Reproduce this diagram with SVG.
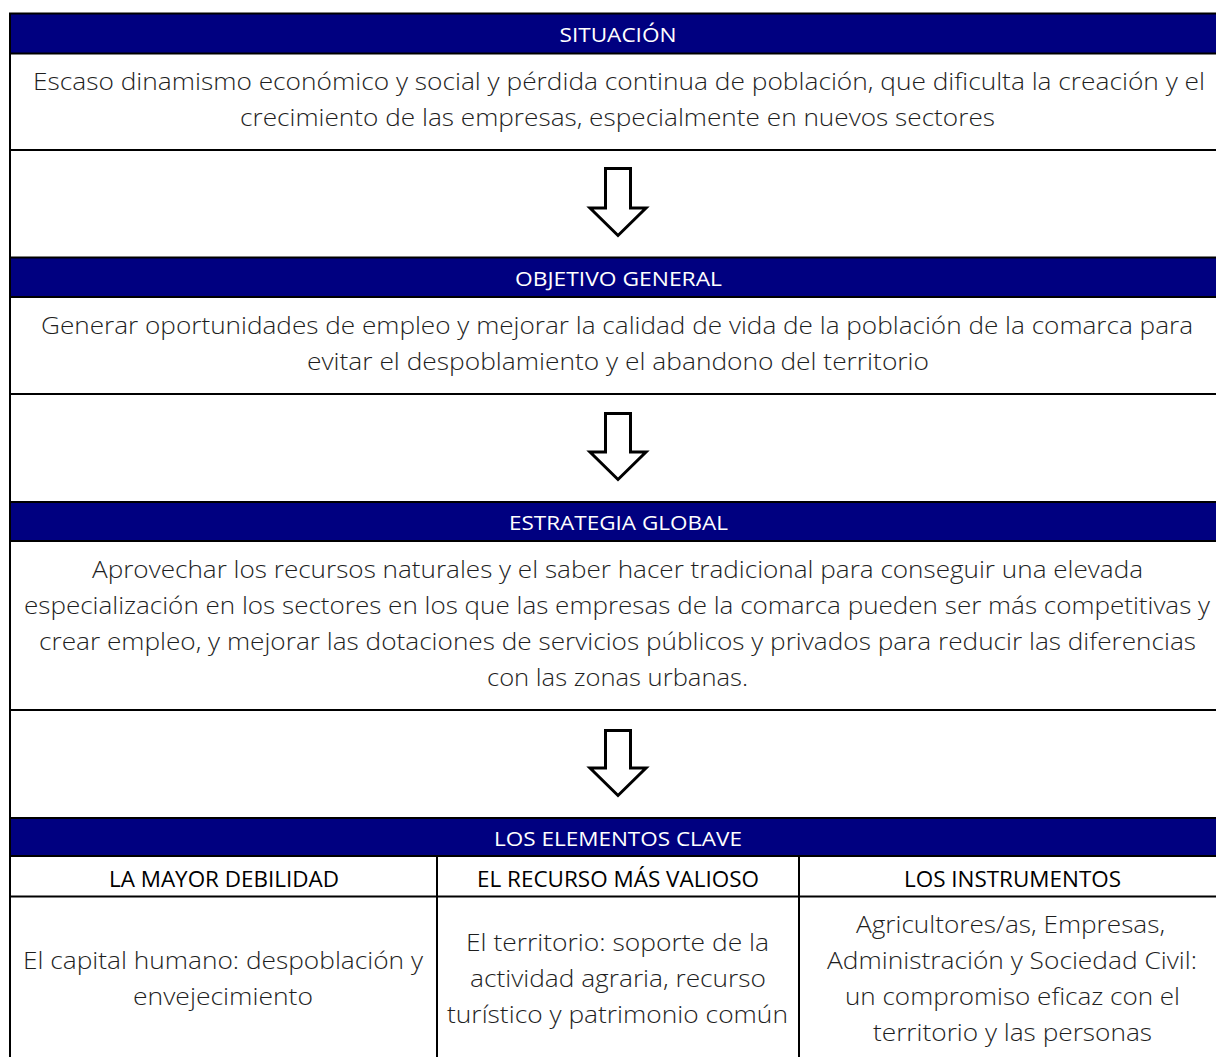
<svg xmlns="http://www.w3.org/2000/svg" width="1216" height="1057" viewBox="0 0 1216 1057">
<style>
.bar{fill:#000080;}
.ln{stroke:#000;stroke-width:2;fill:none;}
.hd{font-family:"Open Sans","Liberation Sans",sans-serif;font-size:20.5px;fill:#fff;text-anchor:middle;}
.tx{font-family:"Open Sans","Liberation Sans",sans-serif;font-weight:300;font-size:24.5px;fill:#1e1e1e;text-anchor:middle;}
.ch{font-family:"Open Sans","Liberation Sans",sans-serif;font-size:21.5px;fill:#000;text-anchor:middle;}
.arr{fill:#fff;stroke:#000;stroke-width:3;stroke-linejoin:miter;}
</style>
<rect x="0" y="0" width="1216" height="1057" fill="#fff"/>
<g id="situacion">
<rect class="bar" x="10" y="14" width="1206" height="39.5"/>
<text class="hd" x="618" y="42" textLength="117" lengthAdjust="spacingAndGlyphs">SITUACIÓN</text>
<text class="tx" x="619" y="89.5" textLength="1172" lengthAdjust="spacingAndGlyphs">Escaso dinamismo económico y social y pérdida continua de población, que dificulta la creación y el</text>
<text class="tx" x="617.5" y="125.5" textLength="755" lengthAdjust="spacingAndGlyphs">crecimiento de las empresas, especialmente en nuevos sectores</text>
</g>
<g id="objetivo">
<rect class="bar" x="10" y="257.5" width="1206" height="39.5"/>
<text class="hd" x="618.5" y="286" textLength="207" lengthAdjust="spacingAndGlyphs">OBJETIVO GENERAL</text>
<text class="tx" x="617" y="333.5" textLength="1152" lengthAdjust="spacingAndGlyphs">Generar oportunidades de empleo y mejorar la calidad de vida de la población de la comarca para</text>
<text class="tx" x="618" y="369.5" textLength="622" lengthAdjust="spacingAndGlyphs">evitar el despoblamiento y el abandono del territorio</text>
</g>
<g id="estrategia">
<rect class="bar" x="10" y="502" width="1206" height="39"/>
<text class="hd" x="618.5" y="530" textLength="219" lengthAdjust="spacingAndGlyphs">ESTRATEGIA GLOBAL</text>
<text class="tx" x="617.5" y="577.5" textLength="1051" lengthAdjust="spacingAndGlyphs">Aprovechar los recursos naturales y el saber hacer tradicional para conseguir una elevada</text>
<text class="tx" x="617" y="613.5" textLength="1186" lengthAdjust="spacingAndGlyphs">especialización en los sectores en los que las empresas de la comarca pueden ser más competitivas y</text>
<text class="tx" x="617.5" y="649.5" textLength="1157" lengthAdjust="spacingAndGlyphs">crear empleo, y mejorar las dotaciones de servicios públicos y privados para reducir las diferencias</text>
<text class="tx" x="617.5" y="685.5" textLength="261" lengthAdjust="spacingAndGlyphs">con las zonas urbanas.</text>
</g>
<g id="elementos">
<rect class="bar" x="10" y="818" width="1206" height="38"/>
<text class="hd" x="618" y="846" textLength="248" lengthAdjust="spacingAndGlyphs">LOS ELEMENTOS CLAVE</text>
</g>
<g id="debilidad">
<text class="ch" x="224" y="887" textLength="230" lengthAdjust="spacingAndGlyphs">LA MAYOR DEBILIDAD</text>
<text class="tx" x="223" y="968.5" textLength="400" lengthAdjust="spacingAndGlyphs">El capital humano: despoblación y</text>
<text class="tx" x="223" y="1004.5" textLength="180" lengthAdjust="spacingAndGlyphs">envejecimiento</text>
</g>
<g id="recurso">
<text class="ch" x="618" y="887" textLength="282" lengthAdjust="spacingAndGlyphs">EL RECURSO MÁS VALIOSO</text>
<text class="tx" x="617.5" y="950.5" textLength="303" lengthAdjust="spacingAndGlyphs">El territorio: soporte de la</text>
<text class="tx" x="618" y="986.5" textLength="296" lengthAdjust="spacingAndGlyphs">actividad agraria, recurso</text>
<text class="tx" x="617.5" y="1022.5" textLength="341" lengthAdjust="spacingAndGlyphs">turístico y patrimonio común</text>
</g>
<g id="instrumentos">
<text class="ch" x="1012.5" y="887" textLength="217" lengthAdjust="spacingAndGlyphs">LOS INSTRUMENTOS</text>
<text class="tx" x="1010.5" y="932.5" textLength="309" lengthAdjust="spacingAndGlyphs">Agricultores/as, Empresas,</text>
<text class="tx" x="1012" y="968.5" textLength="370" lengthAdjust="spacingAndGlyphs">Administración y Sociedad Civil:</text>
<text class="tx" x="1012.5" y="1004.5" textLength="335" lengthAdjust="spacingAndGlyphs">un compromiso eficaz con el</text>
<text class="tx" x="1012.5" y="1040.5" textLength="279" lengthAdjust="spacingAndGlyphs">territorio y las personas</text>
</g>
<g id="grid">
<path class="ln" d="M10,13.5H1216M10,53.5H1216M10,150H1216M10,257.5H1216M10,297H1216M10,394H1216M10,502H1216M10,541H1216M10,710H1216M10,818H1216M10,856H1216M10,896.5H1216M10,12.5V1057M437,856V1057M799,856V1057"/>
</g>
<g id="connectors">
<path class="arr" d="M605.5,168.5H630.5V208H646L618,235.5L590,208H605.5Z"/>
<path class="arr" d="M605.5,413.5H630.5V452H646L618,479.5L590,452H605.5Z"/>
<path class="arr" d="M605.5,730.5H630.5V768H646L618,795.5L590,768H605.5Z"/>
</g>
</svg>
